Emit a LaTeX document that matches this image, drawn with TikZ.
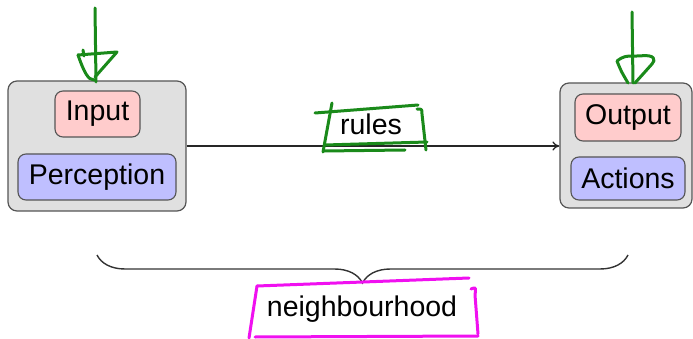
\documentclass[tikz,border=0pt]{standalone}
\usepackage{fontspec}
\setmainfont{Liberation Sans}
\usetikzlibrary{decorations.pathreplacing,arrows.meta}
\definecolor{outerfill}{HTML}{E0E0E0}
\definecolor{outerdraw}{HTML}{555555}
\definecolor{pinkfill}{HTML}{FFCCCC}
\definecolor{bluefill}{HTML}{BFBFFF}
\definecolor{innerdraw}{HTML}{555555}
\definecolor{penGreen}{HTML}{1A8A1A}
\definecolor{penMagenta}{HTML}{F010F0}
\begin{document}
\begin{tikzpicture}[x=1pt,y=-1pt,
  outerbox/.style={draw=outerdraw,fill=outerfill,line width=1.2pt,rounded corners=9pt,inner sep=0pt},
  pinkbox/.style={draw=innerdraw,fill=pinkfill,line width=1.1pt,rounded corners=8pt,inner sep=0pt,font=\fontsize{28.5}{34}\selectfont},
  bluebox/.style={draw=innerdraw,fill=bluefill,line width=1.1pt,rounded corners=8pt,inner sep=0pt,font=\fontsize{28.5}{34}\selectfont},
  lbl/.style={inner sep=0pt,font=\fontsize{28.5}{34}\selectfont},
  greenpen/.style={draw=penGreen,line width=3pt,line cap=round,line join=round},
  magpen/.style={draw=penMagenta,line width=3pt,line cap=round,line join=round}]
\useasboundingbox (0,0) rectangle (693,339);
% boxes
\node[outerbox,minimum width=178pt,minimum height=130pt] (left) at (97,146) {};
\node[outerbox,minimum width=132pt,minimum height=125pt] (right) at (626,145.5) {};
\node[pinkbox,minimum width=85pt,minimum height=46pt] (input) at (97.5,114) {Input};
\node[bluebox,minimum width=158pt,minimum height=46pt] (perc) at (97,177) {Perception};
\node[pinkbox,minimum width=106pt,minimum height=47pt] (output) at (628,117.5) {Output};
\node[bluebox,minimum width=114pt,minimum height=43pt] (actions) at (628,178.5) {Actions};
% arrow
\draw[line width=1.3pt,draw=black!85,-{To[length=7pt,width=9pt]}] (left.east) -- (left.east -| right.west);
\node[lbl] (rules) at (371,124) {rules};
% brace
\coordinate (bl) at (97,255);
\coordinate (br) at (628,255);
\draw[line width=1.4pt,draw=black!80,decorate,decoration={brace,mirror,amplitude=28pt}] (bl) -- (br);
\node[lbl] (nb) at (362,309) {neighbourhood};
% green pen: left arrow
\draw[greenpen] (95,8) -- (96,82);
\draw[greenpen] (78,55) -- (117,52) -- (95,77);
\draw[greenpen] (78,55) .. controls (84,72) and (88,80) .. (94,80);
\draw[greenpen] (83,50) -- (84,56);
% green pen: right arrow
\draw[greenpen] (632,12) -- (633,83);
\draw[greenpen] (628,83) .. controls (621,71) .. (617,61) .. controls (624,56) .. (640,56) .. controls (655,54) and (656,60) .. (652,64) -- (635,83);
% green pen: rules box
\draw[greenpen] (315,113) -- (418,105);
\draw[greenpen] (332,103) -- (323,152);
\draw[greenpen] (417,109) .. controls (422,109) .. (422,114) -- (426,150);
\draw[greenpen] (325,145) -- (427,142);
\draw[greenpen] (324,151) -- (405,150);
% magenta pen: neighbourhood box
\draw[magpen] (257,286) -- (469,278);
\draw[magpen] (257,286) -- (249,338);
\draw[magpen] (255,337) -- (478,336);
\draw[magpen] (471,289) .. controls (476,287) .. (475,295) -- (478,334);
\end{tikzpicture}
\end{document}
